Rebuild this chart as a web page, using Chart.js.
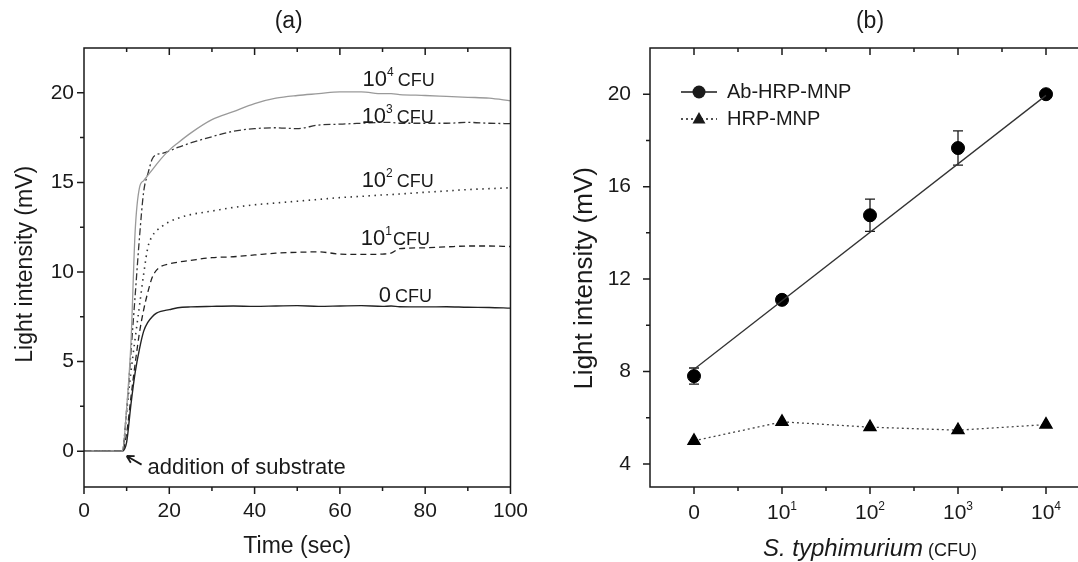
<!DOCTYPE html>
<html>
<head>
<meta charset="utf-8">
<script src="https://cdn.jsdelivr.net/npm/chart.js@4"></script>
<style>
html, body { margin: 0; padding: 0; background: #fff; overflow: hidden; width: 1078px; height: 562px; }
#wrapA { position: absolute; left: 0; top: 0; width: 540px; height: 562px; }
#wrapB { position: absolute; left: 540px; top: 0; width: 560px; height: 562px; }
</style>
</head>
<body>
<div id="wrapA"><canvas id="chartA" width="540" height="562"></canvas></div>
<div id="wrapB"><canvas id="chartB" width="560" height="562"></canvas></div>
<script>
// ---- panel (a): light intensity vs time ----
const times = [0, 9, 10, 11, 12, 13, 14, 15, 16, 17, 18, 20, 22, 25, 30, 35, 40, 45, 50, 55, 60, 65, 70, 72, 74, 80, 85, 90, 95, 100];
const cfu0 = [0, 0, 0.5, 2.6, 4.4, 5.7, 6.7, 7.2, 7.5, 7.7, 7.8, 7.9, 8.0, 8.05, 8.08, 8.1, 8.08, 8.1, 8.12, 8.08, 8.1, 8.12, 8.08, 8.1, 8.06, 8.05, 8.06, 8.03, 8.02, 7.98];
const cfu1 = [0, 0, 1.0, 3.0, 4.9, 6.6, 7.9, 8.9, 9.7, 10.1, 10.3, 10.45, 10.55, 10.65, 10.8, 10.85, 10.95, 11.05, 11.1, 11.12, 11.0, 10.98, 11.0, 11.05, 11.3, 11.35, 11.4, 11.45, 11.45, 11.42];
const cfu2 = [0, 0, 2.2, 4.4, 6.3, 8.1, 9.9, 11.4, 12.0, 12.3, 12.5, 12.8, 13.0, 13.2, 13.4, 13.6, 13.75, 13.85, 13.95, 14.05, 14.15, 14.22, 14.3, 14.32, 14.35, 14.45, 14.52, 14.6, 14.65, 14.7];
const cfu3 = [0, 0, 2.3, 5.5, 8.7, 11.9, 14.5, 15.5, 16.3, 16.55, 16.6, 16.75, 16.95, 17.2, 17.55, 17.85, 18.0, 18.05, 18.0, 18.2, 18.25, 18.3, 18.35, 18.35, 18.3, 18.3, 18.3, 18.35, 18.3, 18.28];
const cfu4 = [0, 0, 2.4, 6.0, 12.3, 14.7, 15.1, 15.4, 15.7, 16.0, 16.3, 16.8, 17.2, 17.75, 18.5, 18.95, 19.4, 19.7, 19.85, 19.95, 20.05, 20.05, 19.95, 19.95, 19.9, 19.85, 19.8, 19.75, 19.7, 19.55];
const timeTicks = [0, 20, 40, 60, 80, 100];
const timeMinor = [10, 30, 50, 70, 90];
const lightTicksA = [0, 5, 10, 15, 20];
const lightMinorA = [2.5, 7.5, 12.5, 17.5];
// curve labels: base, exponent, anchor (time, mV)
const cfuLabels = [
  ['10', '4', 65.3, 20.4],
  ['10', '3', 65.1, 18.3],
  ['10', '2', 65.1, 14.75],
  ['10', '1', 64.9, 11.5],
  ['0', '', 69.1, 8.3]
];

// ---- panel (b): light intensity vs S. typhimurium ----
const cfuCats = [0, 1, 2, 3, 4];
const catBase = ['0', '10', '10', '10', '10'];
const catExp = ['', '1', '2', '3', '4'];
const abHrpMnp = [7.8, 11.1, 14.76, 17.67, 20.0];
const abErr = [0.35, 0, 0.7, 0.74, 0];
const hrpMnp = [5.0, 5.82, 5.59, 5.46, 5.7];
const fitLine = [8.1, 19.95];   // linear fit at 0 and 10^4
const lightTicksB = [4, 8, 12, 16, 20];
const lightMinorB = [6, 10, 14, 18];
const catMinor = [0.5, 1.5, 2.5, 3.5];

const FONT = "'Liberation Sans', Arial, sans-serif";
const INK = '#1a1a1a';

// draws text pieces of mixed size on one baseline
function drawRuns(ctx, runs, x, y, align) {
  let total = 0;
  runs.forEach(r => { ctx.font = r.font; r.w = ctx.measureText(r.text).width; total += r.w + (r.gap || 0); });
  let cx = align === 'center' ? x - total / 2 : x;
  ctx.textAlign = 'left';
  ctx.textBaseline = 'alphabetic';
  runs.forEach(r => {
    ctx.font = r.font;
    ctx.fillText(r.text, cx, y + (r.dy || 0));
    cx += r.w + (r.gap || 0);
  });
}

function drawFrame(chart, c) {
  const { ctx, chartArea: a, scales: { x, y } } = chart;
  ctx.save();
  ctx.strokeStyle = INK;
  ctx.lineWidth = 1.5;
  ctx.beginPath();
  ctx.rect(a.left, a.top, a.right - a.left, a.bottom - a.top);
  const seg = (x1, y1, x2, y2) => { ctx.moveTo(x1, y1); ctx.lineTo(x2, y2); };
  c.xMajor.forEach(v => { const p = x.getPixelForValue(v); seg(p, a.bottom, p, a.bottom + 7); seg(p, a.top, p, a.top + 7); });
  c.xMinor.forEach(v => { const p = x.getPixelForValue(v); seg(p, a.bottom, p, a.bottom + 4); seg(p, a.top, p, a.top + 4); });
  c.yMajor.forEach(v => { const p = y.getPixelForValue(v); seg(a.left - 7, p, a.left, p); });
  c.yMinor.forEach(v => { const p = y.getPixelForValue(v); seg(a.left - 4, p, a.left, p); });
  ctx.stroke();
  ctx.restore();
}

const panelA = {
  id: 'panelA',
  afterDraw(chart) {
    const { ctx, scales: { x, y } } = chart;
    drawFrame(chart, { xMajor: timeTicks, xMinor: timeMinor, yMajor: lightTicksA, yMinor: lightMinorA });
    ctx.save();
    ctx.fillStyle = INK;
    cfuLabels.forEach(([base, exp, t, v]) => {
      drawRuns(ctx, [
        { text: base, font: `22px ${FONT}` },
        { text: exp, font: `12px ${FONT}`, dy: -10, gap: exp === '1' ? 1 : 4 },
        { text: 'CFU', font: `18px ${FONT}` }
      ], x.getPixelForValue(t), y.getPixelForValue(v), 'left');
    });
    // addition of substrate
    ctx.font = `22px ${FONT}`;
    ctx.textAlign = 'left';
    ctx.fillText('addition of substrate', x.getPixelForValue(14.9), y.getPixelForValue(-1.29));
    const hx = x.getPixelForValue(10.0), hy = y.getPixelForValue(-0.27);
    const tx = x.getPixelForValue(13.5), ty = y.getPixelForValue(-0.75);
    const ang = Math.atan2(hy - ty, hx - tx);
    ctx.strokeStyle = INK;
    ctx.lineWidth = 1.8;
    ctx.beginPath();
    ctx.moveTo(tx, ty); ctx.lineTo(hx, hy);
    ctx.moveTo(hx, hy); ctx.lineTo(hx - 8 * Math.cos(ang - 0.5), hy - 8 * Math.sin(ang - 0.5));
    ctx.moveTo(hx, hy); ctx.lineTo(hx - 8 * Math.cos(ang + 0.5), hy - 8 * Math.sin(ang + 0.5));
    ctx.stroke();
    // panel title
    ctx.font = `23px ${FONT}`;
    ctx.textAlign = 'center';
    ctx.textBaseline = 'middle';
    ctx.fillText('(a)', x.getPixelForValue(48), 22);
    ctx.restore();
  }
};

const panelB = {
  id: 'panelB',
  beforeDatasetsDraw(chart) {
    const { ctx, scales: { x, y } } = chart;
    ctx.save();
    ctx.strokeStyle = INK;
    ctx.lineWidth = 1.3;
    ctx.beginPath();
    cfuCats.forEach((c, i) => {
      if (!abErr[i]) return;
      const px = x.getPixelForValue(c);
      const top = y.getPixelForValue(abHrpMnp[i] + abErr[i]);
      const bot = y.getPixelForValue(abHrpMnp[i] - abErr[i]);
      ctx.moveTo(px, top); ctx.lineTo(px, bot);
      ctx.moveTo(px - 5, top); ctx.lineTo(px + 5, top);
      ctx.moveTo(px - 5, bot); ctx.lineTo(px + 5, bot);
    });
    ctx.stroke();
    ctx.restore();
  },
  afterDraw(chart) {
    const { ctx, chartArea: a, scales: { x, y } } = chart;
    drawFrame(chart, { xMajor: cfuCats, xMinor: catMinor, yMajor: lightTicksB, yMinor: lightMinorB });
    ctx.save();
    ctx.fillStyle = INK;
    ctx.strokeStyle = INK;
    // category labels
    cfuCats.forEach((c, i) => {
      drawRuns(ctx, [
        { text: catBase[i], font: `21px ${FONT}` },
        { text: catExp[i], font: `12px ${FONT}`, dy: -9, gap: 0 }
      ], x.getPixelForValue(c), a.bottom + 32, 'center');
    });
    // axis title
    drawRuns(ctx, [
      { text: 'S. typhimurium', font: `italic 24px ${FONT}`, gap: 5 },
      { text: '(CFU)', font: `18px ${FONT}` }
    ], x.getPixelForValue(2), 556, 'center');
    // legend
    const lx = a.left + 31, ly1 = a.top + 44, ly2 = a.top + 71;
    ctx.lineWidth = 1.3;
    ctx.beginPath(); ctx.moveTo(lx, ly1); ctx.lineTo(lx + 36, ly1); ctx.stroke();
    ctx.beginPath(); ctx.arc(lx + 18, ly1, 6.5, 0, Math.PI * 2); ctx.fill();
    ctx.setLineDash([2, 3]);
    ctx.beginPath(); ctx.moveTo(lx, ly2); ctx.lineTo(lx + 36, ly2); ctx.stroke();
    ctx.setLineDash([]);
    ctx.beginPath();
    ctx.moveTo(lx + 18, ly2 - 7); ctx.lineTo(lx + 24.5, ly2 + 4.5); ctx.lineTo(lx + 11.5, ly2 + 4.5);
    ctx.closePath(); ctx.fill();
    ctx.font = `20px ${FONT}`;
    ctx.textAlign = 'left';
    ctx.textBaseline = 'middle';
    ctx.fillText('Ab-HRP-MNP', lx + 46, ly1);
    ctx.fillText('HRP-MNP', lx + 46, ly2);
    // panel title
    ctx.font = `23px ${FONT}`;
    ctx.textAlign = 'center';
    ctx.fillText('(b)', x.getPixelForValue(2), 22);
    ctx.restore();
  }
};

function curve(vals, dash, color, width) {
  return {
    data: times.map((t, i) => ({ x: t, y: vals[i] })),
    borderColor: color,
    borderWidth: width,
    borderDash: dash,
    pointRadius: 0,
    cubicInterpolationMode: 'monotone',
    fill: false
  };
}

const tickFont = { family: FONT, size: 21 };

new Chart(document.getElementById('chartA'), {
  type: 'line',
  data: {
    datasets: [
      curve(cfu4, [], '#9a9a9a', 1.3),
      curve(cfu3, [7, 3, 2, 3], '#333', 1.3),
      curve(cfu2, [1.5, 4.5], '#333', 1.6),
      curve(cfu1, [6, 4], '#222', 1.3),
      curve(cfu0, [], '#222', 1.4)
    ]
  },
  options: {
    responsive: false,
    animation: false,
    devicePixelRatio: 1,
    layout: { padding: { top: 48, right: 18, bottom: 0, left: 0 } },
    plugins: { legend: { display: false }, tooltip: { enabled: false } },
    scales: {
      x: {
        type: 'linear', min: 0, max: 100,
        afterBuildTicks: s => { s.ticks = timeTicks.map(v => ({ value: v })); },
        afterFit: s => { s.height = 75; },
        grid: { display: false, drawTicks: false },
        border: { display: false },
        ticks: { font: tickFont, color: INK, padding: 12, maxRotation: 0 },
        title: { display: true, text: 'Time (sec)', font: { family: FONT, size: 23 }, color: INK, padding: { top: 0, bottom: 2 } }
      },
      y: {
        min: -2, max: 22.5,
        afterBuildTicks: s => { s.ticks = lightTicksA.map(v => ({ value: v })); },
        afterFit: s => { s.width = 84; },
        grid: { display: false, drawTicks: false },
        border: { display: false },
        ticks: { font: tickFont, color: INK, padding: 10 },
        title: { display: true, text: '\u00a0Light intensity (mV)', font: { family: FONT, size: 23 }, color: INK, padding: { top: 12, bottom: 0 } }
      }
    }
  },
  plugins: [panelA]
});

new Chart(document.getElementById('chartB'), {
  type: 'line',
  data: {
    datasets: [
      { data: [{ x: 0, y: fitLine[0] }, { x: 4, y: fitLine[1] }], borderColor: '#333', borderWidth: 1.3, pointRadius: 0 },
      { data: cfuCats.map((c, i) => ({ x: c, y: abHrpMnp[i] })), showLine: false, pointStyle: 'circle', pointRadius: 6.5, pointBackgroundColor: '#000', pointBorderColor: '#000' },
      { data: cfuCats.map((c, i) => ({ x: c, y: hrpMnp[i] })), borderColor: '#444', borderWidth: 1.3, borderDash: [2, 3], pointStyle: 'triangle', pointRadius: 7, pointBackgroundColor: '#000', pointBorderColor: '#000' }
    ]
  },
  options: {
    responsive: false,
    animation: false,
    devicePixelRatio: 1,
    layout: { padding: { top: 48, right: 10, bottom: 0, left: 0 } },
    plugins: { legend: { display: false }, tooltip: { enabled: false } },
    scales: {
      x: {
        type: 'linear', min: -0.5, max: 4.5,
        afterBuildTicks: s => { s.ticks = cfuCats.map(v => ({ value: v })); },
        afterFit: s => { s.height = 75; },
        grid: { display: false, drawTicks: false },
        border: { display: false },
        ticks: { display: false }
      },
      y: {
        min: 3, max: 22,
        afterBuildTicks: s => { s.ticks = lightTicksB.map(v => ({ value: v })); },
        afterFit: s => { s.width = 110; },
        grid: { display: false, drawTicks: false },
        border: { display: false },
        ticks: { font: tickFont, color: INK, padding: 19 },
        title: { display: true, text: 'Light intensity (mV)\u00a0\u00a0\u00a0', font: { family: FONT, size: 26 }, color: INK, padding: { top: 29, bottom: 0 } }
      }
    }
  },
  plugins: [panelB]
});
</script>
</body>
</html>
